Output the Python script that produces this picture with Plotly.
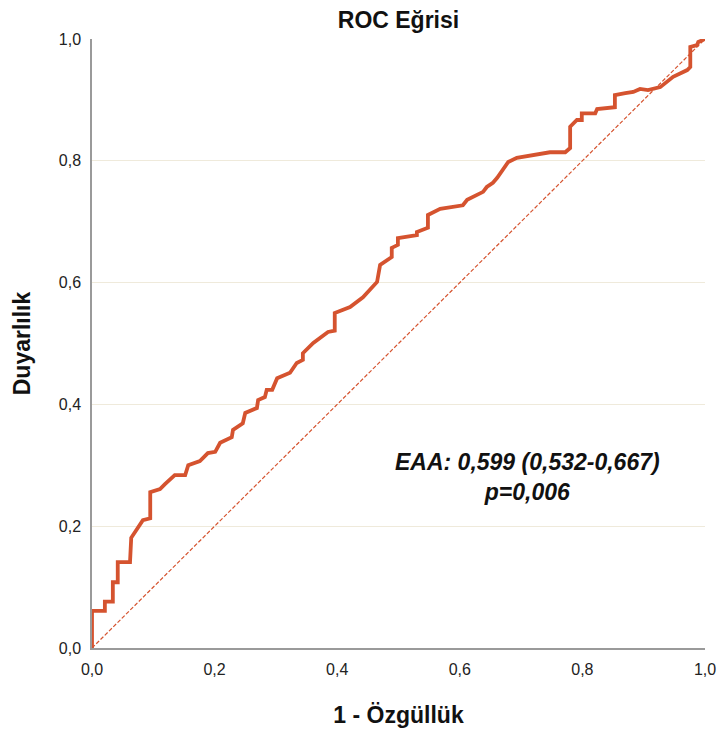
import plotly.graph_objects as go

fpr = [0, 0, 0.021, 0.021, 0.034, 0.034, 0.042, 0.042, 0.062, 0.064, 0.083, 0.095, 0.095,
       0.111, 0.119, 0.135, 0.152, 0.157, 0.176, 0.189, 0.201, 0.209, 0.228, 0.230, 0.246,
       0.250, 0.269, 0.271, 0.282, 0.285, 0.294, 0.302, 0.323, 0.334, 0.344, 0.344, 0.361,
       0.385, 0.396, 0.396, 0.421, 0.442, 0.465, 0.470, 0.489, 0.489, 0.499, 0.499, 0.530,
       0.530, 0.548, 0.548, 0.568, 0.605, 0.612, 0.638, 0.644, 0.654, 0.661, 0.679, 0.693,
       0.719, 0.747, 0.772, 0.780, 0.780, 0.791, 0.799, 0.799, 0.821, 0.824, 0.853, 0.853,
       0.870, 0.883, 0.894, 0.907, 0.927, 0.938, 0.948, 0.971, 0.976, 0.976, 0.987, 0.989,
       0.997, 1.0]
tpr = [0, 0.061, 0.061, 0.076, 0.076, 0.108, 0.108, 0.141, 0.141, 0.181, 0.210, 0.213, 0.256,
       0.261, 0.269, 0.284, 0.284, 0.300, 0.307, 0.320, 0.322, 0.337, 0.346, 0.358, 0.369,
       0.386, 0.394, 0.407, 0.412, 0.424, 0.424, 0.443, 0.452, 0.468, 0.473, 0.484, 0.501,
       0.519, 0.521, 0.550, 0.560, 0.576, 0.601, 0.629, 0.642, 0.657, 0.662, 0.673, 0.678,
       0.683, 0.690, 0.711, 0.721, 0.727, 0.736, 0.749, 0.757, 0.764, 0.772, 0.798, 0.805,
       0.810, 0.814, 0.814, 0.821, 0.856, 0.867, 0.867, 0.878, 0.878, 0.885, 0.888, 0.908,
       0.911, 0.913, 0.918, 0.916, 0.921, 0.929, 0.938, 0.949, 0.954, 0.987, 0.990, 0.995,
       0.998, 1.0]
ref_x = [0, 1]
ref_y = [0, 1]
tick_vals = [0, 0.2, 0.4, 0.6, 0.8, 1.0]
tick_text = ["0,0", "0,2", "0,4", "0,6", "0,8", "1,0"]
title_text = "ROC Eğrisi"
x_title = "1 - Özgüllük"
y_title = "Duyarlılık"
annot_text = "<b><i>EAA: 0,599 (0,532-0,667)<br>p=0,006</i></b>"

color = "#d5532f"
font = "Liberation Sans, Arial, sans-serif"

fig = go.Figure()
fig.add_trace(go.Scatter(x=ref_x, y=ref_y, mode="lines",
                         line=dict(color=color, width=1.2, dash="4px,2px"),
                         hoverinfo="skip", showlegend=False))
fig.add_trace(go.Scatter(x=fpr, y=tpr, mode="lines",
                         line=dict(color=color, width=3.8),
                         showlegend=False))

fig.add_annotation(x=0.71, y=0.281, xref="x", yref="y", text=annot_text,
                   showarrow=False, align="center",
                   font=dict(family=font, size=23, color="#111111"))

axis_common = dict(range=[0, 1], tickvals=tick_vals, ticktext=tick_text,
                   showline=True, linecolor="#9a9a9a", linewidth=1.5,
                   ticks="outside", ticklen=6, tickcolor="rgba(0,0,0,0)",
                   tickfont=dict(family=font, size=16, color="#222222"),
                   zeroline=False, automargin=False)

fig.update_layout(
    width=718, height=731,
    margin=dict(l=92, r=13, t=39, b=83),
    paper_bgcolor="white", plot_bgcolor="white",
    title=dict(text="<b>" + title_text + "</b>", x=(92 + 705) / 2 / 718, xanchor="center",
               y=1 - 20 / 731, yanchor="middle",
               font=dict(family=font, size=23, color="#111111")),
    xaxis=dict(**axis_common, showgrid=False,
               title=dict(text="<b>" + x_title + "</b>", standoff=30,
                          font=dict(family=font, size=23, color="#111111"))),
    yaxis=dict(**axis_common, showgrid=True, gridcolor="#efeadb", gridwidth=1,
               title=dict(text="<b>" + y_title + "</b>", standoff=22,
                          font=dict(family=font, size=23, color="#111111"))),
    separators=",.",
)

fig.write_html("out.html")
